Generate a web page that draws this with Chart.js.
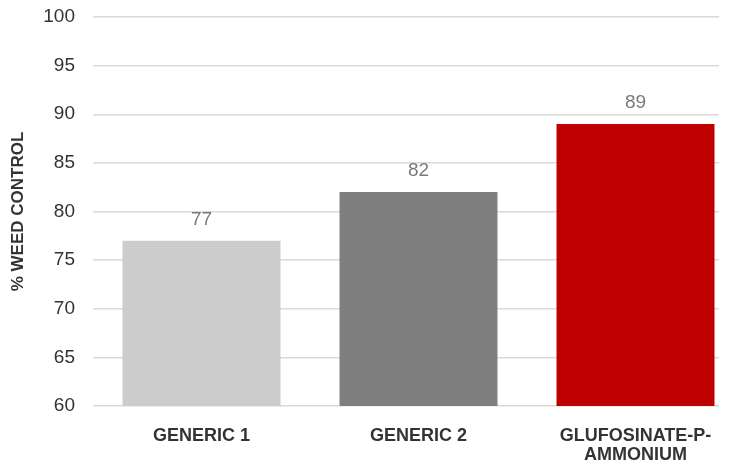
<!DOCTYPE html>
<html>
<head>
<meta charset="utf-8">
<script src="https://cdn.jsdelivr.net/npm/chart.js@4/dist/chart.umd.min.js"></script>
<style>
  html, body { margin: 0; padding: 0; background: #fff; }
  #wrap { width: 719px; height: 462px; overflow: hidden; }
  #box { width: 760px; height: 462px; }
</style>
</head>
<body>
<div id="wrap"><div id="box"><canvas id="chartCanvas"></canvas></div></div>
<script>
const categories = [['GENERIC 1'], ['GENERIC 2'], ['GLUFOSINATE-P-', 'AMMONIUM']];
const weedControl = [77, 82, 89];
const barColors = ['#cccccc', '#7f7f7f', '#c00000'];
const yTicks = [60, 65, 70, 75, 80, 85, 90, 95, 100];

const FONT = '"Liberation Sans", Arial, Helvetica, sans-serif';

// value labels above each bar
const valueLabels = {
  id: 'valueLabels',
  afterDatasetsDraw(chart) {
    const ctx = chart.ctx;
    const meta = chart.getDatasetMeta(0);
    ctx.save();
    ctx.font = '19px ' + FONT;
    ctx.fillStyle = '#7a7a7a';
    ctx.textAlign = 'center';
    ctx.textBaseline = 'middle';
    meta.data.forEach((bar, i) => {
      ctx.fillText(String(weedControl[i]), bar.x, bar.y - 21);
    });
    ctx.restore();
  }
};

new Chart(document.getElementById('chartCanvas').getContext('2d'), {
  type: 'bar',
  data: {
    labels: categories,
    datasets: [{
      data: weedControl,
      backgroundColor: barColors,
      borderWidth: 0,
      barPercentage: 0.728,
      categoryPercentage: 1
    }]
  },
  options: {
    responsive: true,
    maintainAspectRatio: false,
    animation: false,
    layout: { padding: { top: 17, right: 16, left: 0, bottom: 0 } },
    plugins: {
      legend: { display: false },
      tooltip: { enabled: false }
    },
    scales: {
      x: {
        grid: { display: false },
        border: { display: false },
        afterFit(scale) {
          scale.height = 56;
        },
        ticks: {
          color: '#333333',
          padding: 13,
          maxRotation: 0,
          autoSkip: false,
          font: { family: FONT, size: 18, weight: 'bold', lineHeight: 1.05 }
        }
      },
      y: {
        min: 60,
        max: 100,
        afterBuildTicks(scale) {
          scale.ticks = yTicks.map(v => ({ value: v }));
        },
        afterFit(scale) {
          scale.width = 93;
          scale.paddingTop = 0;
          scale.paddingBottom = 0;
        },
        grid: { color: '#d9d9d9', lineWidth: 1.5, drawTicks: false },
        border: { display: false },
        ticks: {
          color: '#333333',
          padding: 18,
          font: { family: FONT, size: 19 }
        },
        title: {
          display: true,
          text: '% WEED CONTROL',
          color: '#333333',
          padding: { top: 8, bottom: 0 },
          font: { family: FONT, size: 17, weight: 'bold' }
        }
      }
    }
  },
  plugins: [valueLabels]
});
</script>
</body>
</html>
